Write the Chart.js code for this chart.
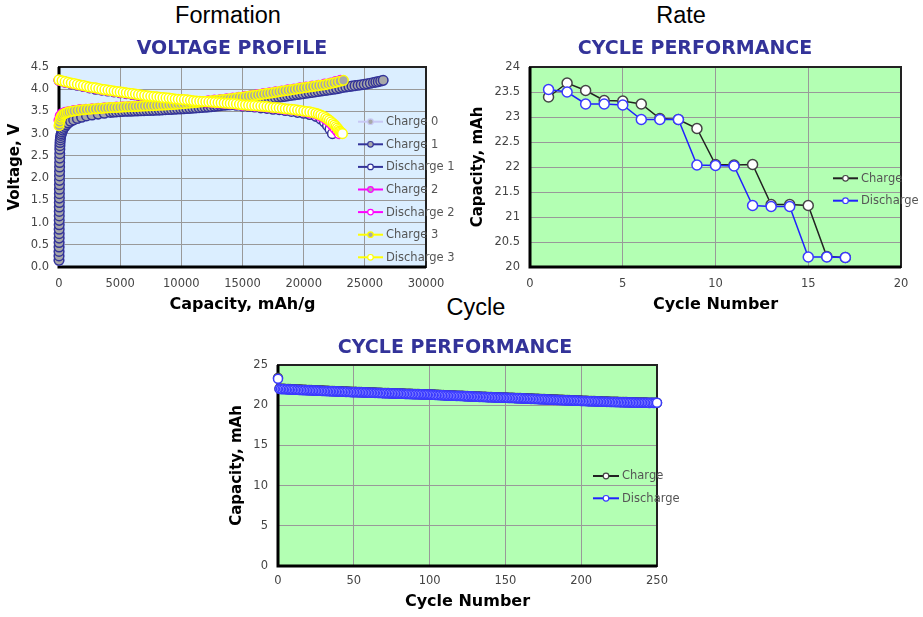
<!DOCTYPE html>
<html>
<head>
<meta charset="utf-8">
<script src="https://cdn.jsdelivr.net/npm/chart.js@4/dist/chart.umd.min.js"></script>
<style>
  html, body { margin: 0; padding: 0; background: #fff; }
  body { width: 923px; height: 617px; position: relative; overflow: hidden; font-family: "Liberation Sans", Arial, sans-serif; }
  .head { position: absolute; font-size: 23.5px; line-height: 26px; color: #000; transform: translateX(-50%); white-space: nowrap; }
  canvas { position: absolute; }
</style>
</head>
<body>
<div class="head" style="left:228px; top:2px;">Formation</div>
<div class="head" style="left:681px; top:2px;">Rate</div>
<div class="head" style="left:476px; top:294px;">Cycle</div>
<canvas id="formation" width="464" height="290" style="left:0; top:30px;"></canvas>
<canvas id="rate" width="456" height="290" style="left:467px; top:30px;"></canvas>
<canvas id="cycle" width="470" height="289" style="left:220px; top:328px;"></canvas>
<script>
// ---------- Formation: voltage profiles (capacity mAh/g, voltage V) ----------
const charge0Cap = [0, 5, 10, 15, 20, 25, 30];
const charge0V   = [0.15, 0.25, 0.35, 0.45, 0.55, 0.65, 0.75];

const charge1Cap = [0, 2, 4, 6, 8, 10, 12, 14, 16, 18, 20, 22, 24, 26, 28, 30, 33, 36, 39, 42, 45, 48, 52, 56, 60, 66, 74, 85, 100, 120, 150, 190, 240, 300, 380, 480, 600, 750, 950, 1200, 1500, 1850, 2250, 2700, 3200, 3700,
  4200, 4450, 4700, 4950, 5200, 5450, 5700, 5950, 6200, 6450, 6700, 6950, 7200, 7450, 7700, 7950, 8200, 8450, 8700, 8950, 9200, 9450, 9700, 9950,
  10200, 10450, 10700, 10950, 11200, 11450, 11700, 11950, 12200, 12450, 12700, 12950, 13200, 13450, 13700, 13950, 14200, 14450, 14700, 14950,
  15200, 15450, 15700, 15950, 16200, 16450, 16700, 16950, 17200, 17450, 17700, 17950, 18200, 18450, 18700, 18950, 19200, 19450, 19700, 19950,
  20200, 20450, 20700, 20950, 21200, 21450, 21700, 21950, 22200, 22450, 22700, 22950, 23200, 23450, 23700, 23950, 24200, 24450, 24700, 24950,
  25200, 25450, 25700, 25900, 26100, 26300, 26500];
const charge1V = [0.15, 0.25, 0.35, 0.45, 0.55, 0.65, 0.75, 0.85, 0.95, 1.05, 1.15, 1.25, 1.35, 1.45, 1.55, 1.65, 1.75, 1.85, 1.95, 2.05, 2.15, 2.25, 2.35, 2.45, 2.55, 2.65, 2.73, 2.8, 2.86, 2.91, 2.96, 3.0, 3.04, 3.08, 3.12, 3.16, 3.2, 3.24, 3.28, 3.31, 3.34, 3.37, 3.4, 3.42, 3.44, 3.46,
  3.48, 3.485, 3.49, 3.495, 3.5, 3.503, 3.505, 3.508, 3.51, 3.513, 3.515, 3.518, 3.52, 3.523, 3.525, 3.528, 3.53, 3.535, 3.54, 3.543, 3.545, 3.55, 3.555, 3.558,
  3.56, 3.565, 3.57, 3.575, 3.58, 3.585, 3.59, 3.595, 3.6, 3.608, 3.615, 3.623, 3.63, 3.638, 3.645, 3.653, 3.66, 3.67, 3.68, 3.69,
  3.7, 3.71, 3.72, 3.733, 3.745, 3.755, 3.765, 3.775, 3.785, 3.798, 3.81, 3.82, 3.83, 3.84, 3.85, 3.86, 3.87, 3.88, 3.89, 3.9,
  3.91, 3.92, 3.93, 3.94, 3.95, 3.96, 3.97, 3.98, 3.99, 4.0, 4.01, 4.025, 4.04, 4.05, 4.06, 4.07, 4.08, 4.09, 4.1, 4.11,
  4.12, 4.135, 4.15, 4.16, 4.17, 4.185, 4.2];

const discharge1Cap = [0, 500, 1000, 1500, 2000, 2500, 3000, 3500, 4000, 4500, 5000, 5500, 6000, 6500, 7000, 7500, 8000, 8500, 9000, 9500, 10000, 10500, 11000, 11500, 12000, 12500, 13000, 13500, 14000, 14500, 15000, 15500, 16000, 16500, 17000, 17500, 18000, 18500, 19000, 19500, 20000, 20500, 21000, 21400, 21700, 21950, 22150, 22350];
const discharge1V = [4.2, 4.16, 4.12, 4.09, 4.06, 4.03, 4.0, 3.98, 3.96, 3.94, 3.92, 3.9, 3.88, 3.86, 3.84, 3.82, 3.81, 3.79, 3.78, 3.76, 3.75, 3.74, 3.72, 3.71, 3.7, 3.69, 3.68, 3.67, 3.65, 3.64, 3.62, 3.61, 3.6, 3.58, 3.57, 3.55, 3.54, 3.52, 3.5, 3.48, 3.46, 3.43, 3.39, 3.33, 3.26, 3.18, 3.1, 3.0];

const charge2Cap = [0, 100, 250, 500, 800, 1200, 1700, 2200, 2700, 3200, 3700, 4200, 4700, 5200, 5700, 6200, 6700, 7200, 7700, 8200, 8700, 9200, 9700, 10200, 10700, 11200, 11700, 12200, 12700, 13200, 13700, 14200, 14700, 15200, 15700, 16200, 16700, 17200, 17700, 18200, 18700, 19200, 19700, 20200, 20700, 21200, 21700, 22200, 22600, 23000];
const charge2V = [3.3, 3.4, 3.45, 3.48, 3.5, 3.52, 3.54, 3.55, 3.56, 3.57, 3.58, 3.59, 3.6, 3.605, 3.61, 3.62, 3.625, 3.63, 3.64, 3.645, 3.655, 3.665, 3.675, 3.685, 3.7, 3.71, 3.725, 3.74, 3.755, 3.77, 3.785, 3.8, 3.82, 3.84, 3.86, 3.88, 3.9, 3.92, 3.94, 3.96, 3.985, 4.005, 4.03, 4.05, 4.07, 4.09, 4.115, 4.14, 4.17, 4.2];

const discharge2Cap = [0, 500, 1000, 1500, 2000, 2500, 3000, 3500, 4000, 4500, 5000, 5500, 6000, 6500, 7000, 7500, 8000, 8500, 9000, 9500, 10000, 10500, 11000, 11500, 12000, 12500, 13000, 13500, 14000, 14500, 15000, 15500, 16000, 16500, 17000, 17500, 18000, 18500, 19000, 19500, 20000, 20500, 21000, 21400, 21800, 22100, 22350, 22550, 22750, 22900];
const discharge2V = [4.2, 4.16, 4.13, 4.1, 4.07, 4.04, 4.02, 3.99, 3.97, 3.95, 3.93, 3.91, 3.89, 3.87, 3.85, 3.83, 3.82, 3.8, 3.79, 3.77, 3.76, 3.75, 3.73, 3.72, 3.71, 3.7, 3.69, 3.68, 3.67, 3.66, 3.64, 3.63, 3.62, 3.61, 3.6, 3.58, 3.57, 3.55, 3.54, 3.52, 3.5, 3.47, 3.44, 3.39, 3.33, 3.26, 3.19, 3.12, 3.06, 3.0];

const charge3Cap = [0, 40, 100, 170, 250, 370, 500, 650, 800, 1000, 1200, 1450, 1700, 1950, 2200, 2450, 2700, 2950, 3200, 3450, 3700, 3950,
  4200, 4450, 4700, 4950, 5200, 5450, 5700, 5950, 6200, 6450, 6700, 6950, 7200, 7450, 7700, 7950, 8200, 8450, 8700, 8950, 9200, 9450, 9700, 9950,
  10200, 10450, 10700, 10950, 11200, 11450, 11700, 11950, 12200, 12450, 12700, 12950, 13200, 13450, 13700, 13950, 14200, 14450, 14700, 14950,
  15200, 15450, 15700, 15950, 16200, 16450, 16700, 16950, 17200, 17450, 17700, 17950, 18200, 18450, 18700, 18950, 19200, 19450, 19700, 19950,
  20200, 20450, 20700, 20950, 21200, 21450, 21700, 21950, 22200, 22450, 22700, 22950, 23250];
const charge3V = [3.18, 3.25, 3.32, 3.37, 3.41, 3.44, 3.46, 3.475, 3.49, 3.5, 3.51, 3.52, 3.53, 3.538, 3.545, 3.55, 3.555, 3.56, 3.565, 3.57, 3.575, 3.58,
  3.585, 3.588, 3.59, 3.595, 3.6, 3.603, 3.605, 3.608, 3.61, 3.615, 3.62, 3.623, 3.625, 3.628, 3.63, 3.635, 3.64, 3.643, 3.645, 3.65, 3.655, 3.66, 3.665, 3.67,
  3.675, 3.683, 3.69, 3.695, 3.7, 3.708, 3.715, 3.723, 3.73, 3.738, 3.745, 3.753, 3.76, 3.768, 3.775, 3.783, 3.79, 3.8, 3.81, 3.82,
  3.83, 3.84, 3.85, 3.86, 3.87, 3.88, 3.89, 3.9, 3.91, 3.92, 3.93, 3.943, 3.955, 3.965, 3.975, 3.985, 3.995, 4.008, 4.02, 4.03,
  4.04, 4.05, 4.06, 4.07, 4.08, 4.09, 4.1, 4.115, 4.13, 4.145, 4.16, 4.178, 4.2];

const discharge3Cap = [0, 250, 500, 750, 1000, 1250, 1500, 1750, 2000, 2250, 2500, 2750, 3000, 3250, 3500, 3750, 4000, 4250, 4500, 4750,
  5000, 5250, 5500, 5750, 6000, 6250, 6500, 6750, 7000, 7250, 7500, 7750, 8000, 8250, 8500, 8750, 9000, 9250, 9500, 9750,
  10000, 10250, 10500, 10750, 11000, 11250, 11500, 11750, 12000, 12250, 12500, 12750, 13000, 13250, 13500, 13750, 14000, 14250, 14500, 14750,
  15000, 15250, 15500, 15750, 16000, 16250, 16500, 16750, 17000, 17250, 17500, 17750, 18000, 18250, 18500, 18750, 19000, 19250, 19500, 19750,
  20000, 20250, 20500, 20750, 21000, 21200, 21400, 21600, 21800, 21950, 22100, 22250, 22400, 22530, 22650, 22750, 22850, 22930, 23000, 23090, 23170];
const discharge3V = [4.21, 4.19, 4.17, 4.155, 4.14, 4.125, 4.11, 4.095, 4.08, 4.065, 4.05, 4.04, 4.03, 4.015, 4.0, 3.99, 3.98, 3.97, 3.96, 3.95,
  3.94, 3.93, 3.92, 3.91, 3.9, 3.89, 3.88, 3.87, 3.86, 3.85, 3.84, 3.835, 3.83, 3.82, 3.81, 3.805, 3.8, 3.79, 3.78, 3.775,
  3.77, 3.765, 3.76, 3.75, 3.74, 3.735, 3.73, 3.725, 3.72, 3.715, 3.71, 3.705, 3.7, 3.695, 3.69, 3.685, 3.68, 3.675, 3.67, 3.66,
  3.65, 3.645, 3.64, 3.635, 3.63, 3.625, 3.62, 3.615, 3.61, 3.6, 3.59, 3.585, 3.58, 3.57, 3.56, 3.555, 3.55, 3.54, 3.53, 3.52,
  3.51, 3.5, 3.49, 3.475, 3.46, 3.44, 3.42, 3.39, 3.36, 3.33, 3.3, 3.265, 3.23, 3.195, 3.16, 3.125, 3.09, 3.06, 3.04, 3.02, 3.0];

// ---------- Rate: capacity per cycle (mAh) ----------
const rateCycles    = [1, 2, 3, 4, 5, 6, 7, 8, 9, 10, 11, 12, 13, 14, 15, 16, 17];
const rateCharge    = [23.40, 23.68, 23.53, 23.33, 23.32, 23.26, 22.97, 22.95, 22.77, 22.05, 22.04, 22.05, 21.25, 21.25, 21.23, 20.21, 20.19];
const rateDischarge = [23.55, 23.50, 23.26, 23.26, 23.24, 22.95, 22.95, 22.95, 22.04, 22.03, 22.02, 21.23, 21.21, 21.21, 20.20, 20.20, 20.19];

// ---------- Cycle life: capacity for cycles 0..250 (mAh) ----------
const lifeCharge = [23.40,
  22.08, 22.06, 22.05, 22.04, 22.03, 22.02, 22.01, 22.00, 21.99, 21.98,
  21.98, 21.96, 21.96, 21.94, 21.94, 21.93, 21.92, 21.91, 21.90, 21.90,
  21.89, 21.88, 21.87, 21.86, 21.86, 21.85, 21.84, 21.83, 21.82, 21.82,
  21.81, 21.80, 21.79, 21.78, 21.78, 21.77, 21.76, 21.75, 21.74, 21.74,
  21.73, 21.72, 21.71, 21.70, 21.70, 21.69, 21.68, 21.67, 21.66, 21.65,
  21.66, 21.65, 21.64, 21.64, 21.63, 21.62, 21.61, 21.61, 21.60, 21.59,
  21.59, 21.58, 21.57, 21.57, 21.56, 21.55, 21.55, 21.54, 21.53, 21.53,
  21.52, 21.51, 21.51, 21.50, 21.49, 21.49, 21.48, 21.47, 21.47, 21.46,
  21.45, 21.45, 21.44, 21.43, 21.43, 21.42, 21.41, 21.41, 21.40, 21.39,
  21.39, 21.38, 21.38, 21.37, 21.37, 21.36, 21.36, 21.35, 21.35, 21.36,
  21.34, 21.33, 21.32, 21.31, 21.30, 21.29, 21.28, 21.27, 21.26, 21.25,
  21.25, 21.24, 21.23, 21.22, 21.21, 21.20, 21.20, 21.19, 21.18, 21.17,
  21.16, 21.16, 21.15, 21.14, 21.13, 21.12, 21.12, 21.11, 21.10, 21.09,
  21.08, 21.08, 21.07, 21.06, 21.05, 21.05, 21.04, 21.03, 21.02, 21.02,
  21.01, 21.00, 21.00, 20.99, 20.98, 20.98, 20.97, 20.97, 20.96, 20.96,
  20.95, 20.94, 20.93, 20.92, 20.92, 20.91, 20.90, 20.89, 20.88, 20.88,
  20.87, 20.86, 20.85, 20.85, 20.84, 20.83, 20.82, 20.82, 20.81, 20.80,
  20.79, 20.79, 20.78, 20.77, 20.76, 20.76, 20.75, 20.74, 20.73, 20.73,
  20.72, 20.71, 20.70, 20.70, 20.69, 20.68, 20.67, 20.67, 20.66, 20.65,
  20.64, 20.64, 20.63, 20.62, 20.61, 20.61, 20.60, 20.59, 20.58, 20.57,
  20.56, 20.55, 20.55, 20.54, 20.53, 20.53, 20.52, 20.51, 20.51, 20.50,
  20.49, 20.49, 20.48, 20.47, 20.47, 20.46, 20.45, 20.45, 20.44, 20.44,
  20.43, 20.43, 20.42, 20.42, 20.41, 20.41, 20.40, 20.40, 20.39, 20.39,
  20.38, 20.38, 20.37, 20.37, 20.36, 20.36, 20.35, 20.35, 20.34, 20.34,
  20.33, 20.33, 20.33, 20.32, 20.32, 20.32, 20.31, 20.31, 20.31, 20.31];
const lifeDischarge = [23.28,
  22.03, 22.01, 21.99, 22.00, 21.97, 21.98, 21.95, 21.96, 21.94, 21.93,
  21.94, 21.91, 21.92, 21.90, 21.89, 21.90, 21.87, 21.88, 21.86, 21.85,
  21.86, 21.83, 21.84, 21.82, 21.81, 21.82, 21.79, 21.80, 21.78, 21.77,
  21.78, 21.75, 21.76, 21.74, 21.73, 21.74, 21.71, 21.72, 21.70, 21.69,
  21.70, 21.67, 21.68, 21.66, 21.65, 21.66, 21.63, 21.64, 21.62, 21.60,
  21.63, 21.61, 21.62, 21.60, 21.59, 21.60, 21.58, 21.57, 21.58, 21.56,
  21.55, 21.56, 21.54, 21.53, 21.54, 21.52, 21.51, 21.52, 21.50, 21.49,
  21.50, 21.48, 21.47, 21.48, 21.46, 21.45, 21.46, 21.44, 21.43, 21.44,
  21.42, 21.41, 21.42, 21.40, 21.39, 21.40, 21.38, 21.37, 21.38, 21.36,
  21.37, 21.35, 21.36, 21.34, 21.35, 21.33, 21.34, 21.32, 21.33, 21.34,
  21.31, 21.29, 21.30, 21.27, 21.28, 21.25, 21.26, 21.23, 21.24, 21.22,
  21.21, 21.22, 21.19, 21.20, 21.18, 21.17, 21.18, 21.15, 21.16, 21.14,
  21.13, 21.14, 21.11, 21.12, 21.10, 21.09, 21.10, 21.07, 21.08, 21.06,
  21.05, 21.06, 21.03, 21.04, 21.02, 21.01, 21.02, 20.99, 21.00, 20.98,
  20.97, 20.98, 20.96, 20.95, 20.96, 20.94, 20.95, 20.93, 20.94, 20.93,
  20.92, 20.90, 20.91, 20.89, 20.88, 20.89, 20.86, 20.87, 20.85, 20.84,
  20.85, 20.82, 20.83, 20.81, 20.80, 20.81, 20.78, 20.79, 20.77, 20.76,
  20.77, 20.74, 20.75, 20.73, 20.72, 20.73, 20.70, 20.71, 20.69, 20.68,
  20.69, 20.66, 20.67, 20.65, 20.64, 20.65, 20.62, 20.63, 20.61, 20.60,
  20.61, 20.59, 20.58, 20.59, 20.57, 20.56, 20.57, 20.55, 20.54, 20.53,
  20.52, 20.51, 20.52, 20.50, 20.49, 20.50, 20.48, 20.47, 20.48, 20.46,
  20.45, 20.46, 20.44, 20.43, 20.44, 20.42, 20.41, 20.42, 20.40, 20.41,
  20.39, 20.40, 20.38, 20.39, 20.37, 20.38, 20.36, 20.37, 20.35, 20.36,
  20.34, 20.35, 20.33, 20.34, 20.32, 20.33, 20.31, 20.32, 20.30, 20.31,
  20.30, 20.31, 20.29, 20.30, 20.28, 20.29, 20.30, 20.28, 20.29, 20.30];

// ---------- shared styling helpers ----------
const FONT = 'DejaVu Sans';
const TITLE_COLOR = '#333399';
const TICK_COLOR = '#444';
const GRID_COLOR = '#999999';

const pairs = (xs, ys) => xs.map((x, i) => ({ x, y: ys[i] }));
const byCycle = ys => ys.map((y, i) => ({ x: i, y }));

// Chart heading centred at a fixed point above the plot.
const headTitle = {
  id: 'headTitle',
  afterDraw(chart, args, o) {
    const ctx = chart.ctx;
    ctx.save();
    ctx.font = `bold ${o.size}px "${FONT}"`;
    ctx.fillStyle = TITLE_COLOR;
    ctx.textAlign = 'center';
    ctx.textBaseline = 'middle';
    ctx.fillText(o.text, o.x, o.y);
    ctx.restore();
  }
};

// Fills the plot area and draws its dark frame underneath the data.
const plotFrame = {
  id: 'plotFrame',
  beforeDraw(chart, args, o) {
    const { ctx, chartArea: a } = chart;
    ctx.save();
    ctx.fillStyle = o.fill;
    ctx.fillRect(a.left, a.top, a.width, a.height);
    ctx.restore();
  },
  beforeDatasetsDraw(chart) {
    const { ctx, chartArea: a } = chart;
    ctx.save();
    ctx.strokeStyle = '#222';
    ctx.lineWidth = 2;
    ctx.strokeRect(a.left, a.top, a.width, a.height);
    ctx.strokeStyle = '#000';
    ctx.lineWidth = 3;
    ctx.beginPath();
    ctx.moveTo(a.left, a.top);
    ctx.lineTo(a.left, a.bottom);
    ctx.lineTo(a.right, a.bottom);
    ctx.stroke();
    ctx.restore();
  }
};

// Legend drawn inside the plot, at the right edge.
const insetLegend = {
  id: 'insetLegend',
  afterDraw(chart, args, o) {
    const ctx = chart.ctx;
    ctx.save();
    ctx.font = o.font;
    ctx.textBaseline = 'middle';
    ctx.textAlign = 'left';
    chart.data.datasets.forEach((ds, i) => {
      const y = o.y + i * o.gap;
      ctx.strokeStyle = ds.borderColor;
      ctx.lineWidth = 2;
      ctx.beginPath();
      ctx.moveTo(o.x, y);
      ctx.lineTo(o.x + o.len, y);
      ctx.stroke();
      ctx.beginPath();
      ctx.arc(o.x + o.len / 2, y, o.r, 0, Math.PI * 2);
      ctx.fillStyle = ds.pointBackgroundColor;
      ctx.fill();
      ctx.lineWidth = 1.2;
      ctx.strokeStyle = ds.pointBorderColor;
      ctx.stroke();
      ctx.fillStyle = o.color;
      ctx.fillText(ds.label, o.x + o.len + 3, y + 0.5);
    });
    ctx.restore();
  }
};

function axis(opts) {
  return {
    type: 'linear',
    min: opts.min, max: opts.max,
    afterFit: opts.afterFit,
    ticks: {
      stepSize: opts.step,
      color: TICK_COLOR,
      font: { family: FONT, size: 11.5 },
      padding: opts.tickPad,
      autoSkip: false,
      maxRotation: 0,
      callback: opts.fmt
    },
    grid: { color: GRID_COLOR, lineWidth: 1, drawTicks: false },
    border: { display: false },
    title: {
      display: true,
      text: opts.title,
      color: '#000',
      font: { family: FONT, size: opts.titleSize, weight: 'bold' },
      padding: opts.titlePad
    }
  };
}

function series(label, xy, line, fill, border, r, order) {
  return {
    label, data: xy, showLine: true,
    borderColor: line, backgroundColor: line, borderWidth: 1.5,
    pointBackgroundColor: fill, pointBorderColor: border,
    pointRadius: r, pointBorderWidth: 1.5, pointHoverRadius: r,
    tension: 0, clip: false, order
  };
}

Chart.defaults.font.family = FONT;
Chart.defaults.animation = false;

const NAVY = '#333399', MAGENTA = '#ff00ff', YELLOW = '#ffff00', LAVENDER = '#c8c8f4';
const GREY_FILL = '#a8a8a8';
const LEGEND_FONT = '11.5px "DejaVu Sans"';

function chartOptions(pad, extraPlugins, scales) {
  return {
    responsive: false,
    layout: { padding: pad },
    plugins: Object.assign({ legend: { display: false }, tooltip: { enabled: false }, title: { display: false } }, extraPlugins),
    scales
  };
}

// ---------- Formation ----------
new Chart(document.getElementById('formation'), {
  type: 'scatter',
  data: {
    datasets: [
      series('Charge 0', pairs(charge0Cap, charge0V), LAVENDER, GREY_FILL, LAVENDER, 4.8, 7),
      series('Charge 1', pairs(charge1Cap, charge1V), NAVY, GREY_FILL, NAVY, 4.8, 6),
      series('Discharge 1', pairs(discharge1Cap, discharge1V), NAVY, '#ffffff', NAVY, 4.8, 5),
      series('Charge 2', pairs(charge2Cap, charge2V), MAGENTA, GREY_FILL, MAGENTA, 4.8, 4),
      series('Discharge 2', pairs(discharge2Cap, discharge2V), MAGENTA, '#ffffff', MAGENTA, 4.8, 3),
      series('Charge 3', pairs(charge3Cap, charge3V), YELLOW, GREY_FILL, YELLOW, 4.8, 2),
      series('Discharge 3', pairs(discharge3Cap, discharge3V), YELLOW, '#ffffff', YELLOW, 4.8, 1)
    ]
  },
  options: chartOptions({ top: 37, right: 38, bottom: 5, left: 0 }, {
      headTitle: { text: 'VOLTAGE PROFILE', x: 232, y: 19, size: 19 },
      plotFrame: { fill: '#dbeeff' },
      insetLegend: { x: 358, y: 91.7, gap: 22.6, len: 25, r: 2.8, font: LEGEND_FONT, color: '#555' }
    }, {
      x: axis({ min: 0, max: 30000, step: 5000, tickPad: 10, title: 'Capacity, mAh/g', titleSize: 16,
                titlePad: { top: 0, bottom: 0.4 }, fmt: v => String(v),
                afterFit: s => { s.height = 48; } }),
      y: axis({ min: 0, max: 4.5, step: 0.5, tickPad: 10, title: 'Voltage, V', titleSize: 15,
                titlePad: { top: 6, bottom: 0 }, fmt: v => v.toFixed(1),
                afterFit: s => { s.width = 59; } })
    }),
  plugins: [plotFrame, insetLegend, headTitle]
});

// ---------- Rate ----------
new Chart(document.getElementById('rate'), {
  type: 'scatter',
  data: {
    datasets: [
      series('Charge', pairs(rateCycles, rateCharge), '#222222', '#ffffff', '#444444', 5, 2),
      series('Discharge', pairs(rateCycles, rateDischarge), '#2020ff', '#ffffff', '#3a3aff', 5, 1)
    ]
  },
  options: chartOptions({ top: 37, right: 22, bottom: 5, left: 0 }, {
      headTitle: { text: 'CYCLE PERFORMANCE', x: 228, y: 19, size: 19 },
      plotFrame: { fill: '#b3ffb3' },
      insetLegend: { x: 366, y: 148.3, gap: 22.4, len: 25, r: 2.8, font: LEGEND_FONT, color: '#555' }
    }, {
      x: axis({ min: 0, max: 20, step: 5, tickPad: 10, title: 'Cycle Number', titleSize: 16,
                titlePad: { top: 0, bottom: 0.4 }, fmt: v => String(v),
                afterFit: s => { s.height = 48; } }),
      y: axis({ min: 20, max: 24, step: 0.5, tickPad: 10, title: 'Capacity, mAh', titleSize: 15,
                titlePad: { top: 2.5, bottom: 0 }, fmt: v => String(v),
                afterFit: s => { s.width = 63; } })
    }),
  plugins: [plotFrame, insetLegend, headTitle]
});

// ---------- Cycle life ----------
new Chart(document.getElementById('cycle'), {
  type: 'scatter',
  data: {
    datasets: [
      series('Charge', byCycle(lifeCharge), '#222222', '#ffffff', '#444444', 4.5, 2),
      series('Discharge', byCycle(lifeDischarge), '#2020ff', '#ffffff', '#3a3aff', 4.5, 1)
    ]
  },
  options: chartOptions({ top: 37, right: 33, bottom: 3, left: 0 }, {
      headTitle: { text: 'CYCLE PERFORMANCE', x: 235, y: 20, size: 19 },
      plotFrame: { fill: '#b3ffb3' },
      insetLegend: { x: 373, y: 148, gap: 22.3, len: 26, r: 2.8, font: LEGEND_FONT, color: '#555' }
    }, {
      x: axis({ min: 0, max: 250, step: 50, tickPad: 8, title: 'Cycle Number', titleSize: 16,
                titlePad: { top: 0, bottom: 2.4 }, fmt: v => String(v),
                afterFit: s => { s.height = 48; } }),
      y: axis({ min: 0, max: 25, step: 5, tickPad: 10, title: 'Capacity, mAh', titleSize: 15,
                titlePad: { top: 8, bottom: 0 }, fmt: v => String(v),
                afterFit: s => { s.width = 58; } })
    }),
  plugins: [plotFrame, insetLegend, headTitle]
});
</script>
</body>
</html>
